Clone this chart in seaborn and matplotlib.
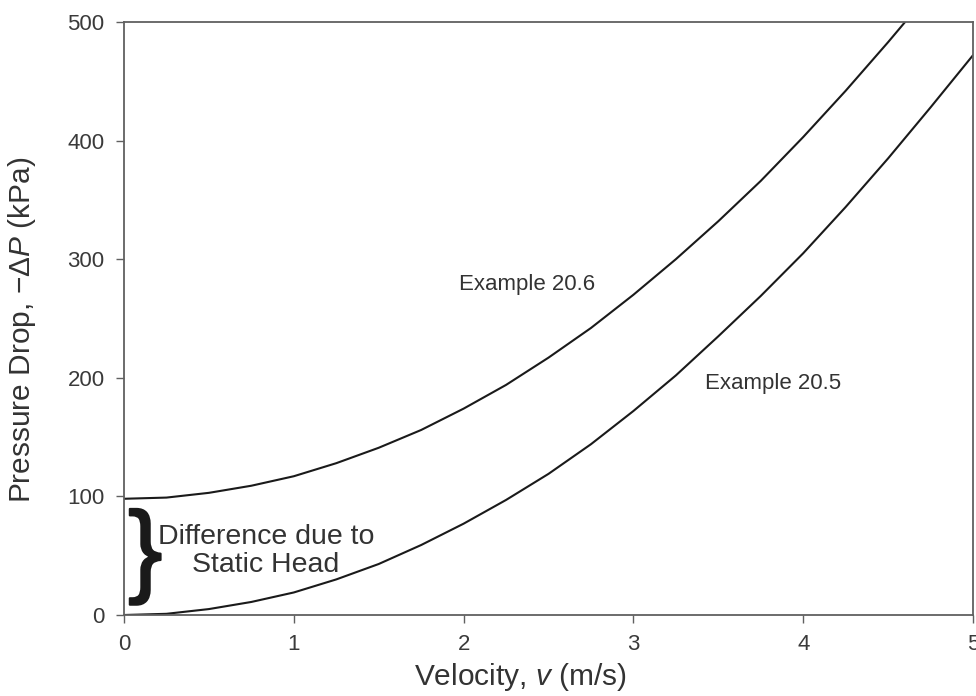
import matplotlib
matplotlib.use("Agg")
import matplotlib.pyplot as plt
import matplotlib.patheffects as pe
import seaborn as sns
import pandas as pd

# Data
velocity_205 = [0, 0.25, 0.5, 0.75, 1.0, 1.25, 1.5, 1.75, 2.0, 2.25, 2.5,
                2.75, 3.0, 3.25, 3.5, 3.75, 4.0, 4.25, 4.5, 4.75, 5.0]
drop_205 = [0, 1, 5, 11, 19, 30, 43, 59, 77, 97, 119,
            144, 172, 202, 235, 269, 305, 344, 385, 428, 472]
velocity_206 = [0, 0.25, 0.5, 0.75, 1.0, 1.25, 1.5, 1.75, 2.0, 2.25, 2.5,
                2.75, 3.0, 3.25, 3.5, 3.75, 4.0, 4.25, 4.5, 4.6]
drop_206 = [98, 99, 103, 109, 117, 128, 141, 156, 174, 194, 217,
            242, 270, 300, 332, 366, 403, 442, 483, 500]
x_ticks = [0, 1, 2, 3, 4, 5]
y_ticks = [0, 100, 200, 300, 400, 500]

df = pd.concat([
    pd.DataFrame({"v": velocity_205, "dp": drop_205, "series": "Example 20.5"}),
    pd.DataFrame({"v": velocity_206, "dp": drop_206, "series": "Example 20.6"}),
])

sns.set_theme(style="ticks")
plt.rcParams["font.family"] = ["Liberation Sans", "DejaVu Sans"]
plt.rcParams["mathtext.fontset"] = "custom"
plt.rcParams["mathtext.rm"] = "Liberation Sans"
plt.rcParams["mathtext.it"] = "Liberation Sans:italic"

fig = plt.figure(figsize=(9.76, 6.96), dpi=100)
ax = fig.add_axes([124/976, 1 - 615/696, (973-124)/976, (615-22)/696])

sns.lineplot(data=df, x="v", y="dp", hue="series", palette=["#1a1a1a", "#1a1a1a"],
             linewidth=1.5, legend=False, ax=ax, sort=False, estimator=None)

ax.set_xlim(0, 5)
ax.set_ylim(0, 500)
ax.set_xticks(x_ticks)
ax.set_yticks(y_ticks)
ax.set_xticklabels([str(t) for t in x_ticks])
ax.set_yticklabels([str(t) for t in y_ticks])

for s in ax.spines.values():
    s.set_visible(True)
    s.set_color("#606060")
    s.set_linewidth(1.3)

ax.tick_params(axis="both", direction="out", length=6, width=1, color="#606060",
               labelsize=16, labelcolor="#3a3a3a", pad=8)

ax.set_xlabel(r"Velocity, $\mathit{v}$ (m/s)", fontsize=21.5, color="#333333")
ax.set_ylabel(r"Pressure Drop, $-\Delta\mathit{P}$ (kPa)", fontsize=21.5, color="#333333")
ax.xaxis.set_label_coords((520-124)/(973-124), -0.078)
ax.yaxis.set_label_coords((38-124)/(973-124), (615-330)/(615-22))

ax.text(1.97, 279, "Example 20.6", fontsize=16, color="#333333", va="center", ha="left")
ax.text(3.42, 195, "Example 20.5", fontsize=16, color="#333333", va="center", ha="left")
ax.text(0.835, 54, "Difference due to\nStatic Head", fontsize=20.5, color="#333333",
        va="center", ha="center", linespacing=1.08)
ax.text(0.125, 49, "}", fontsize=74, color="#1a1a1a", va="center", ha="center",
        path_effects=[pe.withStroke(linewidth=1.5, foreground="#1a1a1a")])

fig.savefig("out.png", dpi=100)
